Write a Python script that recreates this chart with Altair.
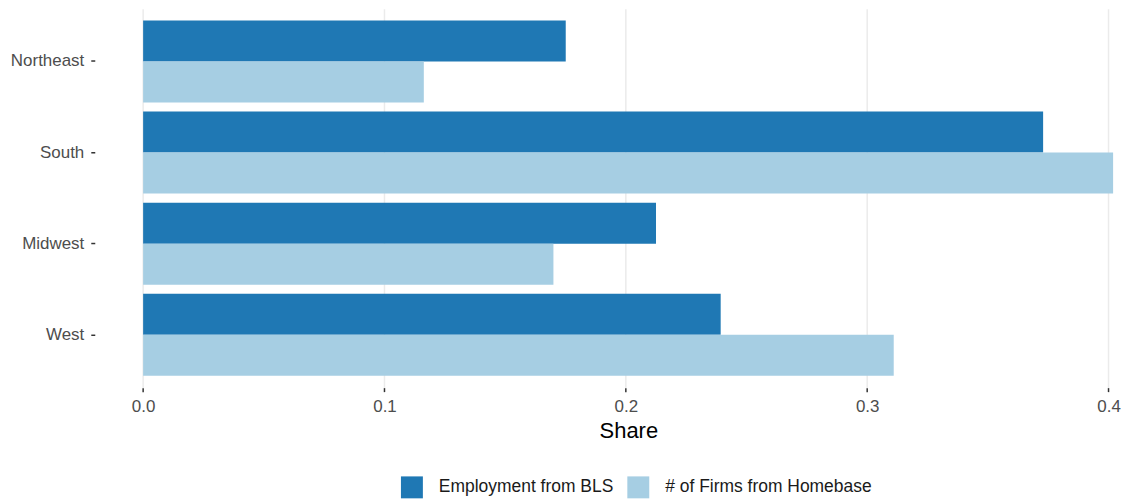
import altair as alt
import pandas as pd

regions = ["Northeast", "South", "Midwest", "West"]
series = ["Employment from BLS", "# of Firms from Homebase"]
bls_share = [0.1751, 0.3729, 0.2125, 0.2393]
homebase_share = [0.1163, 0.4019, 0.1700, 0.3110]
colors = ["#1f78b4", "#a6cee3"]
x_ticks = [0.0, 0.1, 0.2, 0.3, 0.4]

rows = []
for r, b, h in zip(regions, bls_share, homebase_share):
    rows.append({"region": r, "series": series[0], "share": b})
    rows.append({"region": r, "series": series[1], "share": h})
df = pd.DataFrame(rows)

FONT = "Liberation Sans"

chart = alt.Chart(df).mark_bar().encode(
    x=alt.X(
        "share:Q",
        title="Share",
        scale=alt.Scale(domain=[-0.02004, 0.40393], nice=False, zero=False),
        axis=alt.Axis(
            values=x_ticks,
            format=".1f",
            grid=True,
            gridColor="#ebebeb",
            gridWidth=1.5,
            domain=False,
            tickColor="#333333",
            tickSize=4,
            tickWidth=1.5,
            labelFont=FONT,
            labelFontSize=17,
            labelColor="#4d4d4d",
            labelPadding=7,
            titleFont=FONT,
            titleFontSize=22,
            titleFontWeight="normal",
            titleColor="#000000",
            titlePadding=6,
            titleX=535,
            titleAlign="center",
        ),
    ),
    y=alt.Y(
        "region:N",
        sort=regions,
        title=None,
        scale=alt.Scale(paddingInner=0.1, paddingOuter=0.13),
        axis=alt.Axis(
            grid=False,
            domain=False,
            tickColor="#333333",
            tickSize=4,
            tickWidth=1.5,
            labelFont=FONT,
            labelFontSize=17,
            labelColor="#4d4d4d",
            labelPadding=7,
            minExtent=87,
            maxExtent=87,
        ),
    ),
    yOffset=alt.YOffset("series:N", sort=series),
    color=alt.Color(
        "series:N",
        sort=series,
        scale=alt.Scale(domain=series, range=colors),
        legend=alt.Legend(
            title=None,
            orient="none",
            direction="horizontal",
            legendX=307,
            legendY=469,
            symbolType="square",
            symbolSize=484,
            symbolStrokeWidth=0,
            labelFont=FONT,
            labelFontSize=17.5,
            labelColor="#1a1a1a",
            labelOffset=16,
            labelLimit=0,
            columnPadding=13,
        ),
    ),
).properties(
    width=1026,
    height=380,
    padding=0,
).configure_view(
    stroke=None
)

chart.save("out.html", embed_options={"renderer": "svg", "actions": False})
